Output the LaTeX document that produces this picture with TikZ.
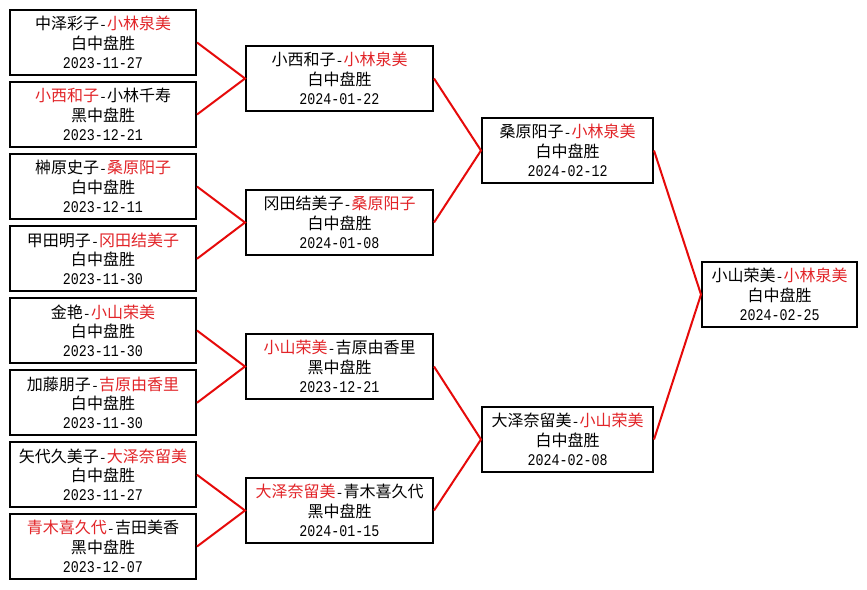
\documentclass[tikz,border=0pt]{standalone}
\usepackage{fontspec}
\usepackage{graphicx}
\setmainfont{Noto Sans CJK SC}
\newfontfamily\monofam{Liberation Mono}
\newcommand\mono{\monofam\fontsize{10}{14.6}\selectfont}
\newcommand\dt[1]{\scalebox{1}[1.22]{\mono #1}}
\definecolor{winred}{RGB}{226,36,40}
\definecolor{linered}{RGB}{230,10,10}
\newcommand\winner[1]{\textcolor{winred}{#1}}
\newcommand\gm[4]{#1{\mono-}#2\\#3\\\dt{#4}}
\begin{document}
\begin{tikzpicture}[x=0.75pt,y=-0.75pt,
  game/.style={draw=black,line width=1.5pt,fill=white,inner sep=0pt,align=center,
    font=\fontsize{12}{14.4}\selectfont,minimum height=65*0.75pt},
  cA/.style={game,minimum width=186*0.75pt},
  cB/.style={game,minimum width=187*0.75pt},
  cC/.style={game,minimum width=171*0.75pt},
  cD/.style={game,minimum width=155*0.75pt},
  link/.style={draw=linered,line width=1.5pt}]
\useasboundingbox[fill=white] (0,0) rectangle (867,589);
% column 1
\node[cA] (a1) at (103,42.5) {\gm{中泽彩子}{\winner{小林泉美}}{白中盘胜}{2023-11-27}};
\node[cA] (a2) at (103,114.5) {\gm{\winner{小西和子}}{小林千寿}{黑中盘胜}{2023-12-21}};
\node[cA] (a3) at (103,186.5) {\gm{榊原史子}{\winner{桑原阳子}}{白中盘胜}{2023-12-11}};
\node[cA] (a4) at (103,258.8) {\gm{甲田明子}{\winner{冈田结美子}}{白中盘胜}{2023-11-30}};
\node[cA] (a5) at (103,330.5) {\gm{金艳}{\winner{小山荣美}}{白中盘胜}{2023-11-30}};
\node[cA] (a6) at (103,402.8) {\gm{加藤朋子}{\winner{吉原由香里}}{白中盘胜}{2023-11-30}};
\node[cA] (a7) at (103,474.8) {\gm{矢代久美子}{\winner{大泽奈留美}}{白中盘胜}{2023-11-27}};
\node[cA] (a8) at (103,546.5) {\gm{\winner{青木喜久代}}{吉田美香}{黑中盘胜}{2023-12-07}};
% column 2
\node[cB] (b1) at (339.5,78.5) {\gm{小西和子}{\winner{小林泉美}}{白中盘胜}{2024-01-22}};
\node[cB] (b2) at (339.5,222.5) {\gm{冈田结美子}{\winner{桑原阳子}}{白中盘胜}{2024-01-08}};
\node[cB] (b3) at (339.5,366.5) {\gm{\winner{小山荣美}}{吉原由香里}{黑中盘胜}{2023-12-21}};
\node[cB] (b4) at (339.5,510.5) {\gm{\winner{大泽奈留美}}{青木喜久代}{黑中盘胜}{2024-01-15}};
% column 3
\node[cC] (c1) at (567.5,150.5) {\gm{桑原阳子}{\winner{小林泉美}}{白中盘胜}{2024-02-12}};
\node[cC] (c2) at (567.5,439.5) {\gm{大泽奈留美}{\winner{小山荣美}}{白中盘胜}{2024-02-08}};
% column 4
\node[cD] (d1) at (779.5,294.5) {\gm{小山荣美}{\winner{小林泉美}}{白中盘胜}{2024-02-25}};
% connectors
\draw[link] (a1.east) -- (b1.west) -- (a2.east);
\draw[link] (a3.east) -- (b2.west) -- (a4.east);
\draw[link] (a5.east) -- (b3.west) -- (a6.east);
\draw[link] (a7.east) -- (b4.west) -- (a8.east);
\draw[link] (b1.east) -- (c1.west) -- (b2.east);
\draw[link] (b3.east) -- (c2.west) -- (b4.east);
\draw[link] (c1.east) -- (d1.west) -- (c2.east);
\end{tikzpicture}
\end{document}
